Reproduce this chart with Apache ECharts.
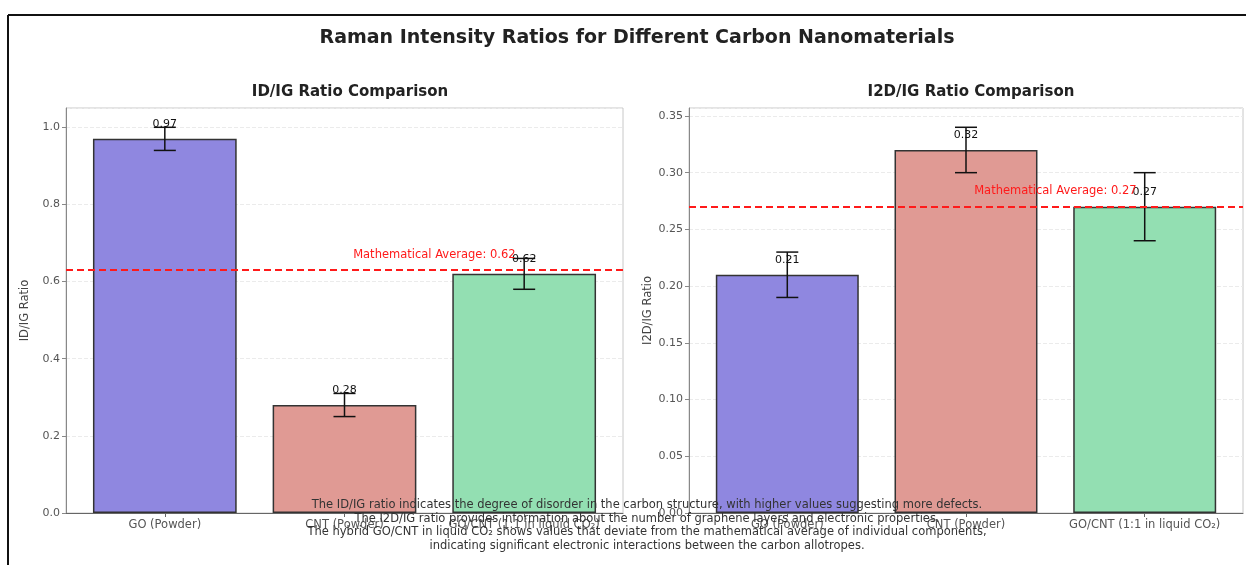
<!DOCTYPE html>
<html>
<head>
<meta charset="utf-8">
<script src="https://cdn.jsdelivr.net/npm/echarts@6/dist/echarts.min.js"></script>
<style>
  html, body { margin: 0; padding: 0; background: #fff; }
  #main { width: 1246px; height: 565px; }
</style>
</head>
<body>
<div id="main"></div>
<script>
// data
var categories = ['GO (Powder)', 'CNT (Powder)', 'GO/CNT (1:1 in liquid CO\u2082)'];
var idigValues = [0.97, 0.28, 0.62];
var idigErrors = [0.03, 0.03, 0.04];
var i2dValues = [0.21, 0.32, 0.27];
var i2dErrors = [0.02, 0.02, 0.03];
var barColors = ['#8f87e0', '#e09a94', '#93dfb2'];
var notes = [
    'The ID/IG ratio indicates the degree of disorder in the carbon structure, with higher values suggesting more defects.',
    'The I2D/IG ratio provides information about the number of graphene layers and electronic properties.',
    'The hybrid GO/CNT in liquid CO\u2082 shows values that deviate from the mathematical average of individual components,',
    'indicating significant electronic interactions between the carbon allotropes.'
];

var FONT = 'DejaVu Sans';
var chartDom = document.getElementById('main');
var myChart = echarts.init(chartDom);

var grids = [
    { left: 66, top: 108, width: 557, height: 405 },
    { left: 689, top: 108, width: 554, height: 405 }
];

// exact ties go to even (0.625 -> 0.62), everything else as toFixed
function fmt2(v) {
    var s = v.toFixed(20);
    var rest = s.slice(s.indexOf('.') + 3);
    if (/^50*$/.test(rest)) {
        var base = Math.floor(v * 100);
        if (base % 2 === 0) return (base / 100).toFixed(2);
    }
    return v.toFixed(2);
}

function barData(values) {
    return values.map(function (v, i) {
        return { value: [i, v], itemStyle: { color: barColors[i] } };
    });
}

function errData(values, errors) {
    return values.map(function (v, i) {
        return [i, v - errors[i], v + errors[i]];
    });
}

function renderErr(params, api) {
    var x = api.value(0);
    var top = api.coord([x, api.value(2)]);
    var bot = api.coord([x, api.value(1)]);
    var w = 11;
    var st = { stroke: '#111', lineWidth: 1.5 };
    return {
        type: 'group',
        children: [
            { type: 'line', shape: { x1: top[0], y1: top[1], x2: bot[0], y2: bot[1] }, style: st },
            { type: 'line', shape: { x1: top[0] - w, y1: top[1], x2: top[0] + w, y2: top[1] }, style: st },
            { type: 'line', shape: { x1: bot[0] - w, y1: bot[1], x2: bot[0] + w, y2: bot[1] }, style: st }
        ]
    };
}

function mean2(arr) {
    return (arr[0] + arr[1]) / 2;
}

function xAxisFor(idx) {
    return {
        type: 'value', gridIndex: idx, min: -0.55, max: 2.55,
        splitLine: { show: false },
        axisLine: { show: true, onZero: false, lineStyle: { color: '#666' } },
        axisTick: { show: true, customValues: [0, 1, 2], length: 4, lineStyle: { color: '#666' } },
        axisLabel: {
            customValues: [0, 1, 2], margin: 6,
            fontFamily: FONT, fontSize: 11.5, color: '#555',
            formatter: function (v) { return categories[Math.round(v)]; }
        }
    };
}

function yAxisFor(idx, name, max, interval, digits) {
    return {
        type: 'value', gridIndex: idx, min: 0, max: max, interval: interval,
        name: name, nameLocation: 'middle', nameGap: 35, nameRotate: 90,
        nameTextStyle: { fontFamily: FONT, fontSize: 11.5, color: '#444' },
        axisLine: { show: true, onZero: false, lineStyle: { color: '#888' } },
        axisTick: { show: true, length: 4, lineStyle: { color: '#888' } },
        axisLabel: {
            fontFamily: FONT, fontSize: 11, color: '#555', margin: 6, showMaxLabel: false,
            formatter: function (v) { return v.toFixed(digits); }
        },
        splitLine: { show: true, lineStyle: { color: '#ebebeb', type: 'dashed', width: 1 } }
    };
}

function seriesFor(idx, values, errors) {
    var avg = mean2(values);
    var bw = 0.8 * grids[idx].width / 3.1;
    return [
        {
            type: 'bar', xAxisIndex: idx, yAxisIndex: idx,
            data: barData(values), barWidth: bw,
            itemStyle: { borderColor: '#333', borderWidth: 1.5 },
            label: {
                show: true, position: 'top', distance: 9,
                fontFamily: FONT, fontSize: 11, color: '#111',
                formatter: function (p) { return fmt2(p.value[1]); }
            },
            markLine: {
                silent: true, symbol: ['none', 'none'],
                label: { show: false },
                lineStyle: { color: '#ff1a1a', type: [7, 4], width: 2 },
                data: [{ yAxis: avg }]
            },
            markPoint: {
                silent: true, symbol: 'rect', symbolSize: 1,
                itemStyle: { color: 'rgba(0,0,0,0)' },
                label: {
                    show: true, position: 'inside',
                    fontFamily: FONT, fontSize: 11.5, color: '#ff1a1a',
                    formatter: 'Mathematical Average: ' + fmt2(avg)
                },
                data: [{ coord: [1.5, avg * 1.07] }]
            },
            z: 2
        },
        {
            type: 'custom', xAxisIndex: idx, yAxisIndex: idx,
            data: errData(values, errors),
            encode: { x: 0, y: [1, 2] },
            renderItem: renderErr,
            z: 3
        }
    ];
}

var noteGraphics = notes.map(function (t, i) {
    return {
        type: 'text', x: 647, y: 505 + i * 13.7, z: 100,
        style: {
            text: t, fill: '#333', font: '11.5px "' + FONT + '"',
            textAlign: 'center', textVerticalAlign: 'middle'
        }
    };
});

var option = {
    animation: false,
    backgroundColor: '#fff',
    title: [
        {
            text: 'Raman Intensity Ratios for Different Carbon Nanomaterials',
            left: 632, top: 24, textAlign: 'center',
            textStyle: { fontFamily: FONT, fontSize: 19, fontWeight: 'bold', color: '#222' }
        },
        {
            text: 'ID/IG Ratio Comparison', left: 345, top: 80, textAlign: 'center',
            textStyle: { fontFamily: FONT, fontSize: 15, fontWeight: 'bold', color: '#222' }
        },
        {
            text: 'I2D/IG Ratio Comparison', left: 966, top: 80, textAlign: 'center',
            textStyle: { fontFamily: FONT, fontSize: 15, fontWeight: 'bold', color: '#222' }
        }
    ],
    grid: grids.map(function (g) {
        return { left: g.left, top: g.top, width: g.width, height: g.height, show: true, borderColor: '#c8c8c8', borderWidth: 1 };
    }),
    xAxis: [xAxisFor(0), xAxisFor(1)],
    yAxis: [
        yAxisFor(0, 'ID/IG Ratio', 1.05, 0.2, 1),
        yAxisFor(1, 'I2D/IG Ratio', 0.357, 0.05, 2)
    ],
    series: seriesFor(0, idigValues, idigErrors).concat(seriesFor(1, i2dValues, i2dErrors)),
    graphic: [
        { type: 'line', shape: { x1: 8, y1: 15, x2: 1246, y2: 15 }, style: { stroke: '#111', lineWidth: 2 }, z: 100 },
        { type: 'line', shape: { x1: 8, y1: 15, x2: 8, y2: 565 }, style: { stroke: '#111', lineWidth: 2 }, z: 100 }
    ].concat(noteGraphics)
};

option && myChart.setOption(option);
</script>
</body>
</html>
